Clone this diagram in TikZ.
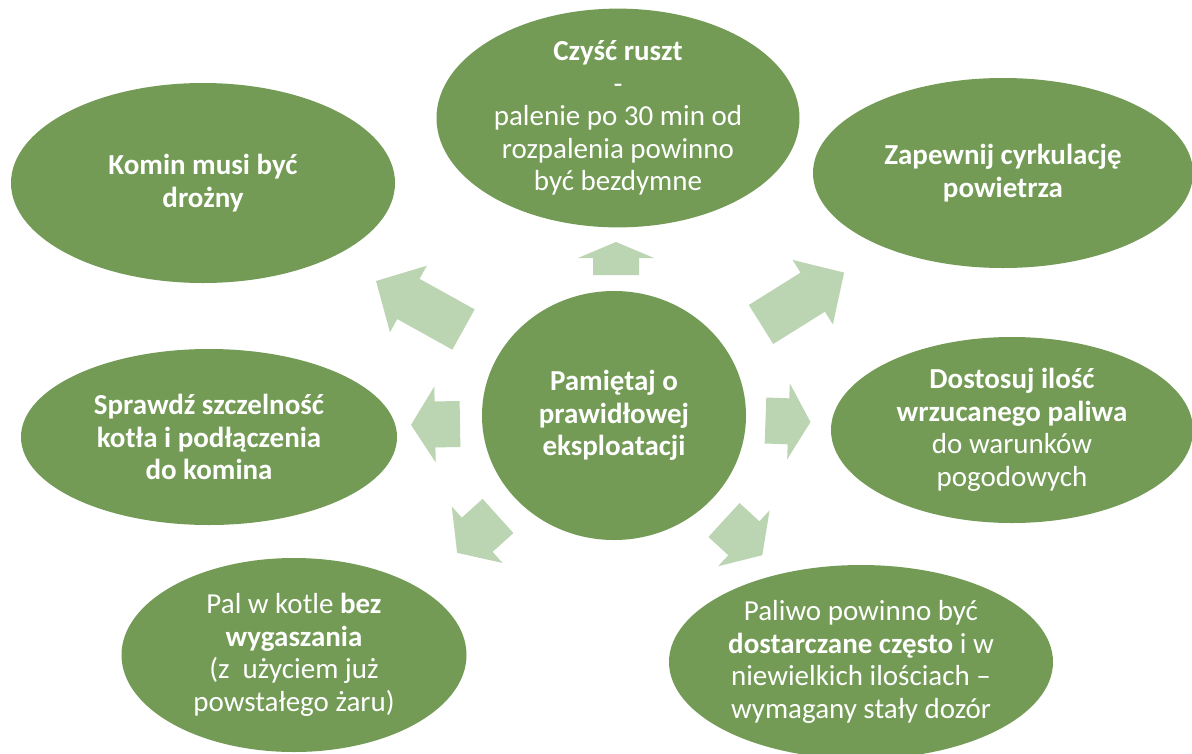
\documentclass[tikz,border=0pt]{standalone}
\usepackage{fontspec}
\setmainfont{Carlito}
\usetikzlibrary{shapes.geometric}
\definecolor{dgreen}{HTML}{739B55}
\definecolor{lgreen}{HTML}{BBD4B2}
\tikzset{
  bubble/.style={ellipse, fill=dgreen, draw=none, inner sep=0pt, text=white, align=center,
    font=\fontsize{29}{32.5}\selectfont},
  arrowshape/.style={fill=lgreen, draw=none}
}
% tail-mid x, y, angle, length, head length
\newcommand{\fatarrow}[5]{%
  \begin{scope}[shift={(#1,#2)}, rotate=#3]
    \fill[arrowshape] (0,-23) -- ({#4-#5},-23) -- ({#4-#5},-38) -- (#4,0) -- ({#4-#5},38) -- ({#4-#5},23) -- (0,23) -- cycle;
  \end{scope}}
\begin{document}
\begin{tikzpicture}[x=1pt,y=-1pt]
\useasboundingbox (0,0) rectangle (1192,753);
\clip (0,0) rectangle (1192,753);
\fill[white] (0,0) rectangle (1192,753);

\node[bubble, minimum width=264pt, minimum height=249pt] (center) at (614,415.5)
  {\textbf{Pamiętaj o}\\\textbf{prawidłowej}\\\textbf{eksploatacji}};

\node[bubble, minimum width=384pt, minimum height=200pt] (komin) at (203,183)
  {\textbf{Komin musi być}\\\textbf{drożny}};

\node[bubble, minimum width=363pt, minimum height=210pt] (ruszt) at (618,118)
  {\textbf{Czyść ruszt}\\-\\palenie po 30 min od\\rozpalenia powinno\\być bezdymne};

\node[bubble, minimum width=380pt, minimum height=190pt] (cyrk) at (1003,173)
  {\textbf{Zapewnij cyrkulację}\\\textbf{powietrza}};

\node[bubble, minimum width=376pt, minimum height=176pt] (szczel) at (209,437)
  {\textbf{Sprawdź szczelność}\\\textbf{kotła i podłączenia}\\\textbf{do komina}};

\node[bubble, minimum width=362pt, minimum height=186pt] (paliwo) at (1012,430)
  {\textbf{Dostosuj ilość}\\\textbf{wrzucanego paliwa}\\do warunków\\pogodowych};

\node[bubble, minimum width=345pt, minimum height=194pt] (kotle) at (294,655)
  {Pal w kotle \textbf{bez}\\\textbf{wygaszania}\\(z\ \ użyciem już\\powstałego żaru)};

\node[bubble, minimum width=384pt, minimum height=194pt] (dozor) at (861,662)
  {Paliwo powinno być\\\textbf{dostarczane często} i w\\niewielkich ilościach –\\wymagany stały dozór};

% arrows
\fatarrow{616}{275}{90}{33}{16}
\fatarrow{463.5}{329.5}{151}{100}{37}
\fatarrow{761}{324.5}{32}{98}{37}
\fatarrow{460}{424}{181}{49}{24}
\fatarrow{765.5}{420.5}{-2}{45}{22}
\fatarrow{498}{516}{222}{55}{27}
\fatarrow{724}{520}{-42.6}{52}{25}
\end{tikzpicture}
\end{document}
